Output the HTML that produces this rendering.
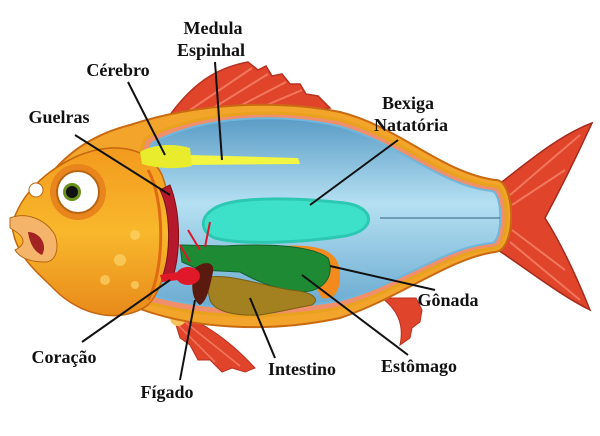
<!DOCTYPE html>
<html><head><meta charset="utf-8"><style>
html,body{margin:0;padding:0;background:#fff;}
svg{display:block;}
text{font-family:"Liberation Serif",serif;font-weight:bold;font-size:18px;fill:#111;text-anchor:middle;}
</style></head><body>
<svg width="600" height="436" viewBox="0 0 600 436" xmlns="http://www.w3.org/2000/svg">
<defs>
<linearGradient id="blue" x1="0" y1="0" x2="0" y2="1">
<stop offset="0" stop-color="#5a9cc6"/><stop offset="0.45" stop-color="#b5e0f2"/><stop offset="1" stop-color="#6aaad0"/></linearGradient>
<linearGradient id="org" x1="0" y1="0" x2="0" y2="1">
<stop offset="0" stop-color="#f39a1e"/><stop offset="0.5" stop-color="#f8b82c"/><stop offset="1" stop-color="#e88a1a"/></linearGradient>
</defs>
<!-- dorsal fin -->
<path d="M165,122 C190,85 215,68 248,62 L258,70 266,66 272,76 282,74 290,84 300,84 306,94 318,96 330,108 Z" fill="#e0452c" stroke="#b8301f" stroke-width="1.5"/>
<g stroke="#f2775c" stroke-width="2" fill="none">
<path d="M190,110 L252,68"/><path d="M210,110 L268,74"/><path d="M232,110 L286,82"/><path d="M255,110 L302,90"/></g>
<!-- pelvic fin -->
<path d="M172,312 C195,318 225,335 255,368 L245,372 232,368 222,372 210,360 198,360 190,345 180,338 Z" fill="#e0452c" stroke="#b8301f"/>
<g stroke="#f2775c" stroke-width="1.5"><path d="M180,318 L240,366"/><path d="M178,325 L215,362"/></g>
<circle cx="178" cy="318" r="8" fill="#f6c25a"/>
<!-- anal fin -->
<path d="M382,298 C395,308 405,322 400,345 L410,338 412,328 420,322 422,310 416,298 Z" fill="#e0452c" stroke="#b8301f"/>
<!-- tail -->
<path d="M498,185 C530,160 560,135 592,123 C575,160 560,190 545,218 C565,250 580,285 590,310 C560,295 528,270 498,250 Z" fill="#e0452c" stroke="#a52a1b" stroke-width="1.5"/>
<g stroke="#f2775c" stroke-width="2" fill="none">
<path d="M510,195 L580,135"/><path d="M512,205 L565,170"/><path d="M512,230 L565,270"/><path d="M510,242 L580,300"/></g>
<!-- body outline gold -->
<path d="M30,210 C50,160 90,135 130,125 C200,102 280,100 340,112 C400,127 440,172 495,180 C515,178 518,250 495,252 C450,258 400,298 340,318 C270,333 190,330 130,305 C90,290 50,270 30,240 Z" fill="#f2a52a" stroke="#c96a12" stroke-width="2"/>
<!-- cavity -->
<path d="M146,138 C200,110 280,108 340,120 C400,136 440,180 495,186 C510,188 510,246 495,248 C445,252 400,292 340,308 C270,320 200,318 146,302 C126,260 126,180 146,138 Z" fill="#f08f6b" stroke="#e9a21e" stroke-width="3"/>
<path d="M152,143 C205,115 280,113 338,126 C398,142 440,186 492,191 C503,193 503,241 492,243 C443,247 398,286 338,301 C270,312 205,310 154,296 C136,258 136,185 152,143 Z" fill="url(#blue)" stroke="#6fb7dc" stroke-width="2"/>
<line x1="380" y1="218" x2="500" y2="218" stroke="#2d5f82" stroke-width="1"/>
<!-- head -->
<path d="M12,225 C20,195 45,170 80,155 C120,140 150,150 162,175 C176,210 172,280 148,305 C120,325 80,315 55,290 C35,270 15,255 12,225 Z" fill="url(#org)" stroke="#c5670f" stroke-width="1.5"/>
<path d="M148,170 C165,200 165,270 148,300" stroke="#e06a14" stroke-width="3" fill="none"/>
<g fill="#fbd46a" opacity="0.7"><circle cx="120" cy="260" r="6"/><circle cx="135" cy="235" r="5"/><circle cx="105" cy="280" r="5"/><circle cx="135" cy="285" r="4"/></g>
<!-- eye -->
<circle cx="78" cy="192" r="28" fill="#e8851c"/>
<circle cx="78" cy="192" r="21" fill="#fff" stroke="#b9650f" stroke-width="2"/>
<circle cx="72" cy="192" r="9" fill="#6b8f1e"/><circle cx="72" cy="192" r="6" fill="#111"/>
<circle cx="36" cy="190" r="7" fill="#fff" stroke="#b9650f"/>
<!-- mouth -->
<path d="M10,218 C25,212 45,218 55,235 C60,250 55,262 45,262 C30,262 20,258 15,250 C25,245 28,238 10,228 Z" fill="#f4b56a" stroke="#b9650f"/>
<path d="M28,232 C40,232 48,245 42,255 C35,252 30,245 28,232 Z" fill="#a32222"/>
<!-- spinal cord & brain -->
<path d="M190,155 L298,158 L300,164 L190,165 Z" fill="#f2f542"/>
<path d="M140,152 C150,146 170,142 190,148 L192,166 C175,170 155,168 142,164 Z" fill="#e8ec2c"/>
<!-- gills -->
<path d="M170,185 C180,210 182,250 172,280 L162,278 C172,250 170,210 160,190 Z" fill="#b5192b" stroke="#7d1018"/>
<!-- swim bladder -->
<path d="M212,210 C230,195 300,198 345,203 C375,207 378,230 345,236 C300,243 240,245 215,238 C200,232 200,218 212,210 Z" fill="#3de0c8" stroke="#2cc8b2" stroke-width="3"/>
<!-- gonad -->
<path d="M280,246 C320,244 340,250 340,275 C340,295 332,300 322,298 L300,260 Z" fill="#f28a1e"/>
<!-- stomach -->
<path d="M180,245 L225,246 C260,244 310,244 328,258 C335,275 325,292 300,292 C270,288 255,280 240,272 L200,270 L182,262 Z" fill="#1f8a34" stroke="#14612a"/>
<!-- intestine -->
<path d="M205,278 C225,272 260,285 290,290 C315,292 320,300 312,305 C295,308 280,312 260,315 C235,316 215,312 210,300 Z" fill="#a38020" stroke="#7a5f12"/>
<!-- liver -->
<path d="M195,268 C205,260 215,262 213,272 C210,285 208,300 200,305 C192,300 190,285 195,268 Z" fill="#5a1a10"/>
<!-- heart & vessels -->
<path d="M200,250 L188,230 M205,247 L210,222 M190,262 L180,245" stroke="#d9182a" stroke-width="2" fill="none"/>
<ellipse cx="188" cy="276" rx="12" ry="9" fill="#e01828"/>
<path d="M160,275 L178,272 L178,280 L162,282 Z" fill="#e01828"/>
<!-- leader lines -->
<g stroke="#111" stroke-width="2">
<line x1="215" y1="62" x2="222" y2="160"/>
<line x1="128" y1="82" x2="165" y2="155"/>
<line x1="75" y1="135" x2="170" y2="195"/>
<line x1="398" y1="140" x2="310" y2="205"/>
<line x1="435" y1="290" x2="330" y2="266"/>
<line x1="408" y1="355" x2="302" y2="275"/>
<line x1="275" y1="358" x2="250" y2="298"/>
<line x1="180" y1="380" x2="195" y2="300"/>
<line x1="82" y1="342" x2="170" y2="280"/>
</g>
<text x="213" y="34">Medula</text>
<text x="211" y="56">Espinhal</text>
<text x="118" y="76">Cérebro</text>
<text x="59" y="123">Guelras</text>
<text x="408" y="109">Bexiga</text>
<text x="411" y="131">Natatória</text>
<text x="448" y="306">Gônada</text>
<text x="64" y="363">Coração</text>
<text x="167" y="398">Fígado</text>
<text x="302" y="375">Intestino</text>
<text x="419" y="372">Estômago</text>
</svg>
</body></html>
